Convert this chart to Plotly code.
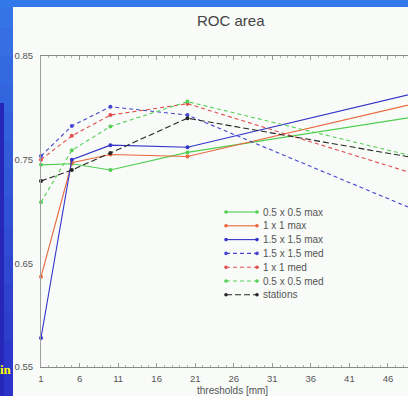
import plotly.graph_objects as go

# ROC area versus precipitation threshold for several box sizes
thresholds = [1, 5, 10, 20, 50]

series_names = [
    "0.5 x 0.5 max",
    "1 x 1 max",
    "1.5 x 1.5 max",
    "1.5 x 1.5 med",
    "1 x 1 med",
    "0.5 x 0.5 med",
    "stations",
]

roc_05_max = [0.745, 0.746, 0.740, 0.757, 0.792]
roc_1_max = [0.637, 0.747, 0.755, 0.753, 0.805]
roc_15_max = [0.578, 0.750, 0.764, 0.762, 0.815]
roc_15_med = [0.7535, 0.7825, 0.801, 0.793, 0.700]
roc_1_med = [0.750, 0.773, 0.793, 0.804, 0.735]
roc_05_med = [0.709, 0.759, 0.782, 0.806, 0.752]
roc_stations = [0.7295, 0.740, 0.7565, 0.790, 0.751]

series_values = [roc_05_max, roc_1_max, roc_15_max, roc_15_med,
                 roc_1_med, roc_05_med, roc_stations]

y_ticks = [0.55, 0.65, 0.75, 0.85]
x_ticks = [1, 6, 11, 16, 21, 26, 31, 36, 41, 46]

colors = ["#4fcf4f", "#e8683c", "#3434c8", "#4646d0", "#e24c4c", "#58d058", "#262626"]
dashes = ["solid", "solid", "solid", "4px,3px", "4px,3px", "4px,3px", "6px,3px"]

W, H = 408, 396
ML, MR, MT, MB = 41, 0, 56, 29
PW, PH = W - ML - MR, H - MT - MB


def fx(p):
    return (p - ML) / PW


def fy(p):
    return (H - MB - p) / PH


fig = go.Figure()
for name, vals, c, d in zip(series_names, series_values, colors, dashes):
    fig.add_trace(go.Scatter(
        x=thresholds, y=vals, name=name, mode="lines+markers",
        line=dict(color=c, width=1.1, dash=d),
        marker=dict(size=4, color=c),
        cliponaxis=False, showlegend=False,
    ))

shapes = []
# slide backdrop: top band and left strip
steps = 14
top_rgb = (0x36, 0x74, 0xe6)
bot_rgb = (0x2c, 0x34, 0xc8)
for i in range(steps):
    t = i / (steps - 1)
    rgb = tuple(int(a + (b - a) * t) for a, b in zip(top_rgb, bot_rgb))
    y0 = i * H / steps
    y1 = (i + 1) * H / steps
    shapes.append(dict(type="rect", xref="paper", yref="paper",
                       x0=fx(0), x1=fx(13), y0=fy(y1), y1=fy(y0),
                       fillcolor="rgb(%d,%d,%d)" % rgb, line_width=0, layer="below"))
shapes.append(dict(type="rect", xref="paper", yref="paper",
                   x0=fx(0), x1=fx(4), y0=fy(H), y1=fy(103),
                   fillcolor="#2626b8", line_width=0, layer="below"))
shapes.append(dict(type="rect", xref="paper", yref="paper",
                   x0=fx(0), x1=fx(W), y0=fy(7), y1=fy(0),
                   fillcolor="#3378e8", line_width=0, layer="below"))
# chart canvas
shapes.append(dict(type="rect", xref="paper", yref="paper",
                   x0=fx(13), x1=fx(W), y0=fy(H), y1=fy(7),
                   fillcolor="#f8fbf8", line_width=0, layer="below"))

annotations = []
# legend block
leg_y0, leg_dy = 212, 13.8
for i, (name, c, d) in enumerate(zip(series_names, colors, dashes)):
    yy = leg_y0 + i * leg_dy
    shapes.append(dict(type="line", xref="paper", yref="paper",
                       x0=fx(226), x1=fx(257), y0=fy(yy), y1=fy(yy),
                       line=dict(color=c, width=1.1, dash=d)))
    for cx in (226, 257):
        shapes.append(dict(type="circle", xref="paper", yref="paper",
                           x0=fx(cx - 1.8), x1=fx(cx + 1.8),
                           y0=fy(yy + 1.8), y1=fy(yy - 1.8),
                           fillcolor=c, line_width=0))
    annotations.append(dict(xref="paper", yref="paper", x=fx(261), y=fy(yy),
                            xanchor="left", yanchor="middle", showarrow=False,
                            text=name, font=dict(size=10, color="#555555")))

annotations.append(dict(xref="paper", yref="paper", x=fx(231), y=fy(20),
                        xanchor="center", yanchor="middle", showarrow=False,
                        text="ROC area", font=dict(size=15, color="#444444")))
annotations.append(dict(xref="paper", yref="paper", x=fx(232), y=fy(390),
                        xanchor="center", yanchor="middle", showarrow=False,
                        text="thresholds [mm]", font=dict(size=10, color="#555555")))
annotations.append(dict(xref="paper", yref="paper", x=fx(13.5), y=fy(370),
                        xanchor="right", yanchor="middle", showarrow=False,
                        text="<b>in</b>",
                        font=dict(size=13, color="#ffff00", family="Liberation Serif")))

fig.update_layout(
    width=W, height=H,
    margin=dict(l=ML, r=MR, t=MT, b=MB, pad=0),
    paper_bgcolor="#2f5fdc",
    plot_bgcolor="#f8fbf8",
    font=dict(family="Liberation Sans, Arial, sans-serif"),
    shapes=shapes,
    annotations=annotations,
    showlegend=False,
)
fig.update_xaxes(
    range=[1, 1 + PW / 7.71], tickvals=x_ticks,
    showline=True, linecolor="#8a8a8a", linewidth=1, mirror="ticks",
    ticks="inside", ticklen=4, tickcolor="#9a9a9a",
    minor=dict(ticks="inside", ticklen=2, dtick=1, tickcolor="#b0b0b0"),
    showgrid=False, zeroline=False,
    tickfont=dict(size=9.5, color="#555555"), ticklabelstandoff=3,
)
fig.update_yaxes(
    range=[0.55, 0.85], tickvals=y_ticks, tickformat=".2f",
    showline=True, linecolor="#a0a0a0", linewidth=1,
    ticks="", showgrid=False, zeroline=False,
    tickfont=dict(size=9.5, color="#555555"), ticklabelstandoff=5,
)

fig.write_html("out.html")
